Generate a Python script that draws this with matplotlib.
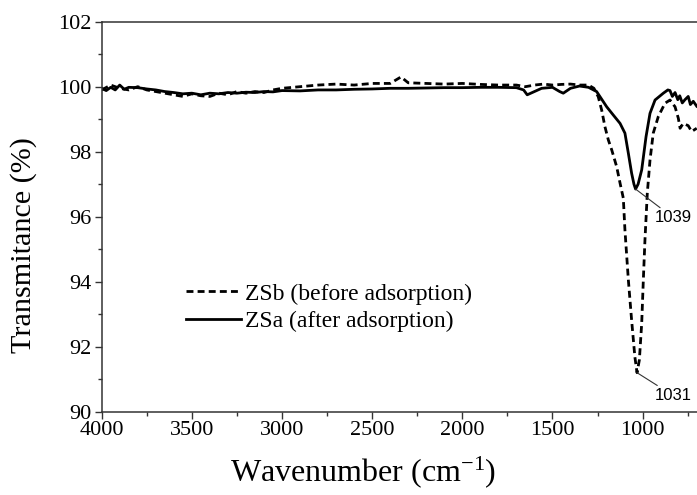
import matplotlib
matplotlib.use("Agg")
import matplotlib.pyplot as plt

plt.rcParams['font.family'] = ['Liberation Serif', 'DejaVu Serif']
plt.rcParams['mathtext.fontset'] = 'custom'
plt.rcParams['mathtext.rm'] = 'Liberation Serif'
plt.rcParams['mathtext.it'] = 'Liberation Serif:italic'

# ZSa (after adsorption) - solid
wn_after = [4000, 3975, 3950, 3925, 3900, 3875, 3850, 3800, 3750, 3700, 3650, 3600, 3550, 3500, 3450,
            3400, 3350, 3300, 3250, 3200, 3150, 3100, 3050, 3000, 2900, 2800, 2700,
            2600, 2500, 2400, 2300, 2200, 2100, 2000, 1900, 1800, 1700, 1660, 1640,
            1600, 1560, 1500, 1460, 1440, 1400, 1350, 1300, 1255, 1236, 1199, 1163,
            1125, 1098, 1079, 1061, 1048, 1039, 1025, 1005, 981, 959, 931, 885, 860,
            848, 835, 820, 805, 794, 780, 765, 747, 735, 719, 700]
t_after = [99.95, 99.88, 99.98, 99.9, 100.05, 99.92, 99.98, 99.97, 99.93, 99.9, 99.85, 99.82, 99.78, 99.8, 99.75,
           99.8, 99.78, 99.82, 99.8, 99.83, 99.82, 99.85, 99.84, 99.88, 99.87, 99.9, 99.9,
           99.92, 99.93, 99.95, 99.95, 99.96, 99.97, 99.97, 99.98, 99.98, 99.97, 99.9, 99.75,
           99.85, 99.95, 99.98, 99.85, 99.8, 99.95, 100.02, 99.98, 99.85, 99.69, 99.38, 99.13,
           98.87, 98.57, 97.95, 97.34, 97.0, 96.85, 97.0, 97.44, 98.46, 99.18, 99.59, 99.80, 99.9,
           99.88, 99.7, 99.82, 99.6, 99.72, 99.5, 99.6, 99.7, 99.45, 99.55, 99.4]

# ZSb (before adsorption) - dashed
wn_before = [4000, 3950, 3900, 3850, 3800, 3750, 3700, 3650, 3600, 3550, 3500, 3450,
             3400, 3350, 3300, 3250, 3200, 3150, 3100, 3050, 3000, 2900, 2800, 2700,
             2600, 2500, 2400, 2340, 2300, 2200, 2100, 2000, 1900, 1800, 1700, 1650,
             1600, 1550, 1500, 1450, 1400, 1350, 1300, 1270, 1246, 1227, 1209, 1190,
             1171, 1144, 1125, 1107, 1098, 1079, 1061, 1043, 1031, 1018, 1005, 996,
             987, 974, 959, 941, 913, 876, 848, 820, 802, 792, 775, 747, 728, 700]
t_before = [99.9, 100.05, 99.95, 99.9, 100.0, 99.9, 99.85, 99.8, 99.75, 99.7, 99.78, 99.72,
            99.7, 99.8, 99.75, 99.85, 99.8, 99.85, 99.82, 99.9, 99.95, 100.0, 100.05, 100.08,
            100.05, 100.1, 100.1, 100.3, 100.12, 100.1, 100.08, 100.1, 100.07, 100.05, 100.05, 100.0,
            100.05, 100.08, 100.05, 100.07, 100.08, 100.05, 100.05, 99.95, 99.69, 99.28, 98.77, 98.36,
            98.05, 97.54, 97.03, 96.57, 95.59, 94.05, 92.82, 91.69, 91.2, 91.59, 92.72, 94.05,
            95.28, 96.72, 97.74, 98.57, 99.08, 99.49, 99.59, 99.38, 99.03, 98.72, 98.87, 98.8, 98.62, 98.72]

x_ticks = [4000, 3500, 3000, 2500, 2000, 1500, 1000]
y_ticks = [90, 92, 94, 96, 98, 100, 102]

fig = plt.figure(figsize=(6.97, 4.95), dpi=100)
ax = fig.add_axes([0.1459, 0.1683, 0.8666, 0.7879])

ax.plot(wn_before, t_before, color='black', lw=2.0, dashes=(2.5, 1.5),
        label='ZSb (before adsorption)')
ax.plot(wn_after, t_after, color='black', lw=2.0, label='ZSa (after adsorption)')

ax.set_xlim(4000, 650)
ax.set_ylim(90, 102)
ax.set_xticks(x_ticks)
ax.set_yticks(y_ticks)
ax.set_xticks([3750, 3250, 2750, 2250, 1750, 1250, 750], minor=True)
ax.set_yticks([91, 93, 95, 97, 99, 101], minor=True)
ax.tick_params(axis='both', which='major', direction='out', length=5, width=1.0,
               labelsize=16, color='#333333', pad=2)
ax.tick_params(axis='both', which='minor', direction='out', length=3, width=1.0,
               color='#333333')
for s in ['left', 'bottom', 'top']:
    ax.spines[s].set_linewidth(1.1)
    ax.spines[s].set_color('#333333')
ax.spines['right'].set_visible(False)

ax.set_xlabel('Wavenumber (cm$^{\\mathregular{-1}}$)', fontsize=23)
ax.set_ylabel('Transmitance (%)', fontsize=21.7)
ax.xaxis.set_label_coords(0.433, -0.11)
ax.yaxis.set_label_coords(-0.107, 0.426)

leg = ax.legend(loc='upper left', bbox_to_anchor=(0.14, 0.33), frameon=False,
                fontsize=17, handlelength=2.3, handletextpad=0.2, labelspacing=0.25,
                borderpad=0, borderaxespad=0)

# peak annotations
ax.annotate('1039', xy=(1039, 96.85), xytext=(931, 95.96), fontsize=12,
            family='Liberation Sans', va='center', ha='left',
            arrowprops=dict(arrowstyle='-', color='#333333', lw=0.8, shrinkA=0, shrinkB=0))
ax.annotate('1031', xy=(1031, 91.2), xytext=(931, 90.49), fontsize=12,
            family='Liberation Sans', va='center', ha='left',
            arrowprops=dict(arrowstyle='-', color='#333333', lw=0.8, shrinkA=0, shrinkB=0))

fig.savefig('out.png', dpi=100)
